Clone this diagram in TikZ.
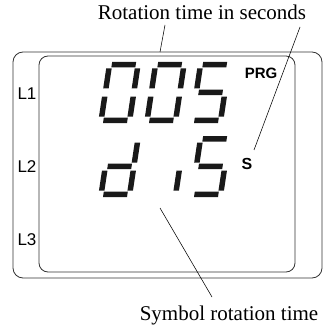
\documentclass[tikz,border=0pt]{standalone}
\usepackage{fontspec}
\setmainfont{Liberation Serif}
\setsansfont{Liberation Sans}
\newcommand\SegR[4]{\fill[segfill] (#1,#2) -- (#3,#2) -- (#3,#4) -- (#1,#4) -- cycle;}
\newcommand\SgA{\SegR{5}{55.5}{29}{61}}
\newcommand\SgB{\SegR{28.5}{34.5}{34}{54.5}}
\newcommand\SgC{\SegR{28.5}{6.5}{34}{26.5}}
\newcommand\SgD{\SegR{5}{0}{29}{5.5}}
\newcommand\SgE{\SegR{0}{6.5}{5.5}{26.5}}
\newcommand\SgF{\SegR{0}{34.5}{5.5}{54.5}}
\newcommand\SgG{\SegR{5}{27.8}{29}{33.3}}
\begin{document}
\begin{tikzpicture}[x=1pt,y=1pt,
  frame/.style={draw=black!80, line width=0.8pt},
  leader/.style={draw=black, line width=0.55pt},
  segfill/.style={fill=black!90},
  caption/.style={font=\fontsize{21}{24}\selectfont, anchor=base, inner sep=0pt},
  lbl/.style={font=\sffamily\fontsize{17}{19}\selectfont, inner sep=0pt},
  blbl/.style={font=\sffamily\bfseries\fontsize{15}{17}\selectfont, inner sep=0pt},
  digit/.style={xslant=0.15}]
\useasboundingbox (0,0) rectangle (328,327);
% frames
\node[frame, rounded corners=10pt, minimum width=309pt, minimum height=226pt, inner sep=0pt] (outer) at (167.5,162) {};
\node[frame, rounded corners=9pt, minimum width=256pt, minimum height=216pt, inner sep=0pt] (inner) at (167,163) {};
% captions
\node[caption] (top) at (202,307) {Rotation time in seconds};
\node[caption] (bot) at (229,7) {Symbol rotation time};
% side labels
\node[lbl] (L1) at (27,233) {L1};
\node[lbl] (L2) at (27,160) {L2};
\node[lbl] (L3) at (27,87) {L3};
\node[blbl] (prg) at (261,254) {PRG};
\node[blbl, font=\sffamily\bfseries\fontsize{16}{18}\selectfont] (S) at (247,163) {S};
% leader coordinates
\coordinate (t1) at (165,302);
\coordinate (t1e) at (160,275);
\coordinate (t2) at (300,300);
\coordinate (t2e) at (254,177);
\coordinate (b1) at (160,119);
\coordinate (b1e) at (212,30);
\draw[leader] (t1) -- (t1e);
\draw[leader] (t2) -- (t2e);
\draw[leader] (b1) -- (b1e);
% row 1: 005
\begin{scope}[shift={(98,204)}, digit] \SgA\SgB\SgC\SgD\SgE\SgF \end{scope}
\begin{scope}[shift={(144,204)}, digit] \SgA\SgB\SgC\SgD\SgE\SgF \end{scope}
\begin{scope}[shift={(189,204)}, digit] \SgA\SgF\SgG\SgC\SgD \end{scope}
% row 2: d i 5
\begin{scope}[shift={(98,130)}, digit] \SgB\SgC\SgD\SgE\SgG \end{scope}
\begin{scope}[shift={(144,130)}, digit] \SgC \end{scope}
\begin{scope}[shift={(189,130)}, digit] \SgA\SgF\SgG\SgC\SgD \end{scope}
\end{tikzpicture}
\end{document}
